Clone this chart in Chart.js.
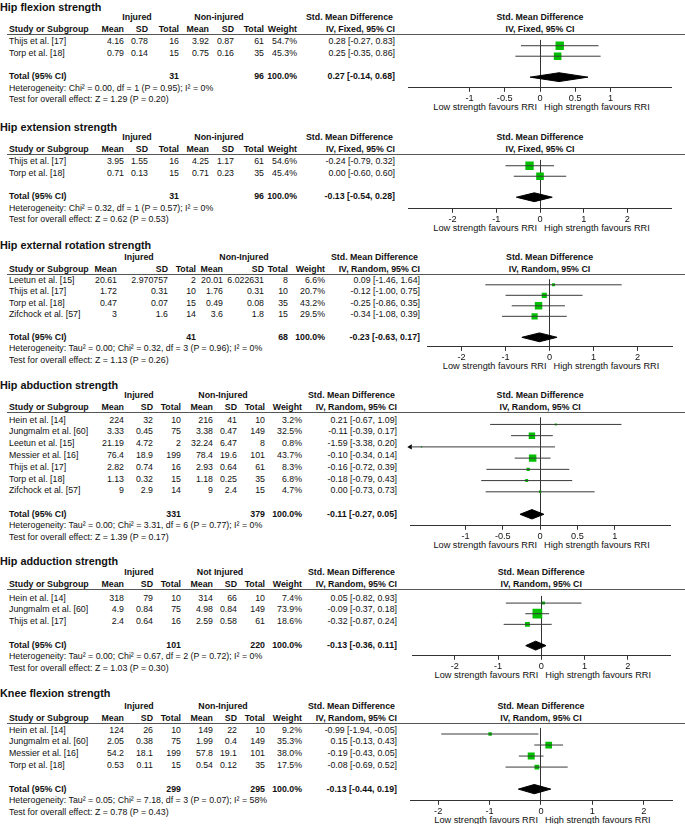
<!DOCTYPE html>
<html>
<head>
<meta charset="utf-8">
<script src="https://cdn.jsdelivr.net/npm/chart.js@4.4.1/dist/chart.umd.min.js"></script>
<style>
  html,body{margin:0;padding:0;background:#fff;}
  #page{position:relative;width:685px;height:824px;overflow:hidden;font-family:"Liberation Sans",Arial,sans-serif;color:#111;}
  .t{position:absolute;white-space:nowrap;font-size:8.8px;line-height:10px;height:10px;}
  .b{font-weight:bold;}
  .f{font-size:9.2px;}
  .title{font-size:10.8px;font-weight:bold;line-height:12px;height:12px;}
  .hl{position:absolute;height:0;border-top:1px solid #555;}
  canvas{position:absolute;}
</style>
</head>
<body>
<div id="page"></div>
<script>
// ---- data ----

// Hip flexion strength
const flexStudy = ['Thijs et al. [17]', 'Torp et al. [18]'];
const flexInj = [[4.16, 0.78, 16], [0.79, 0.14, 15]];
const flexNon = [[3.92, 0.87, 61], [0.75, 0.16, 35]];
const flexWeight = [54.7, 45.3];
const flexSmd = [0.28, 0.25];
const flexLow = [-0.27, -0.35];
const flexHigh = [0.83, 0.86];
const flexTotal = [31, 96, 0.27, -0.14, 0.68];
const flexTicks = [-1, -0.5, 0, 0.5, 1];

// Hip extension strength
const extStudy = ['Thijs et al. [17]', 'Torp et al. [18]'];
const extInj = [[3.95, 1.55, 16], [0.71, 0.13, 15]];
const extNon = [[4.25, 1.17, 61], [0.71, 0.23, 35]];
const extWeight = [54.6, 45.4];
const extSmd = [-0.24, 0.00];
const extLow = [-0.79, -0.60];
const extHigh = [0.32, 0.60];
const extTotal = [31, 96, -0.13, -0.54, 0.28];
const extTicks = [-2, -1, 0, 1, 2];

// Hip external rotation strength
const rotStudy = ['Leetun et al. [15]', 'Thijs et al. [17]', 'Torp et al. [18]', 'Zifchock et al. [57]'];
const rotInj = [[20.61, 2.970757, 2], [1.72, 0.31, 10], [0.47, 0.07, 15], [3, 1.6, 14]];
const rotNon = [[20.01, 6.022631, 8], [1.76, 0.31, 10], [0.49, 0.08, 35], [3.6, 1.8, 15]];
const rotWeight = [6.6, 20.7, 43.2, 29.5];
const rotSmd = [0.09, -0.12, -0.25, -0.34];
const rotLow = [-1.46, -1.00, -0.86, -1.08];
const rotHigh = [1.64, 0.75, 0.35, 0.39];
const rotTotal = [41, 68, -0.23, -0.63, 0.17];
const rotTicks = [-2, -1, 0, 1, 2];

// Hip abduction strength
const abdStudy = ['Hein et al. [14]', 'Jungmalm et al. [60]', 'Leetun et al. [15]', 'Messier et al. [16]', 'Thijs et al. [17]', 'Torp et al. [18]', 'Zifchock et al. [57]'];
const abdInj = [[224, 32, 10], [3.33, 0.45, 75], [21.19, 4.72, 2], [76.4, 18.9, 199], [2.82, 0.74, 16], [1.13, 0.32, 15], [9, 2.9, 14]];
const abdNon = [[216, 41, 10], [3.38, 0.47, 149], [32.24, 6.47, 8], [78.4, 19.6, 101], [2.93, 0.64, 61], [1.18, 0.25, 35], [9, 2.4, 15]];
const abdWeight = [3.2, 32.5, 0.8, 43.7, 8.3, 6.8, 4.7];
const abdSmd = [0.21, -0.11, -1.59, -0.10, -0.16, -0.18, 0.00];
const abdLow = [-0.67, -0.39, -3.38, -0.34, -0.72, -0.79, -0.73];
const abdHigh = [1.09, 0.17, 0.20, 0.14, 0.39, 0.43, 0.73];
const abdTotal = [331, 379, -0.11, -0.27, 0.05];
const abdTicks = [-1, -0.5, 0, 0.5, 1];

// Hip adduction strength
const addStudy = ['Hein et al. [14]', 'Jungmalm et al. [60]', 'Thijs et al. [17]'];
const addInj = [[318, 79, 10], [4.9, 0.84, 75], [2.4, 0.64, 16]];
const addNon = [[314, 66, 10], [4.98, 0.84, 149], [2.59, 0.58, 61]];
const addWeight = [7.4, 73.9, 18.6];
const addSmd = [0.05, -0.09, -0.32];
const addLow = [-0.82, -0.37, -0.87];
const addHigh = [0.93, 0.18, 0.24];
const addTotal = [101, 220, -0.13, -0.36, 0.11];
const addTicks = [-2, -1, 0, 1, 2];

// Knee flexion strength
const kneeStudy = ['Hein et al. [14]', 'Jungmalm et al. [60]', 'Messier et al. [16]', 'Torp et al. [18]'];
const kneeInj = [[124, 26, 10], [2.05, 0.38, 75], [54.2, 18.1, 199], [0.53, 0.11, 15]];
const kneeNon = [[149, 22, 10], [1.99, 0.4, 149], [57.8, 19.1, 101], [0.54, 0.12, 35]];
const kneeWeight = [9.2, 35.3, 38.0, 17.5];
const kneeSmd = [-0.99, 0.15, -0.19, -0.08];
const kneeLow = [-1.94, -0.13, -0.43, -0.69];
const kneeHigh = [-0.05, 0.43, 0.05, 0.52];
const kneeTotal = [299, 295, -0.13, -0.44, 0.19];
const kneeTicks = [-2, -1, 0, 1, 2];

// ---- layout ----
const colsA = [124, 148, 179, 209, 234, 264, 297, 395];
const colsB = [117, 168, 196, 223, 264, 288, 325, 420];
const colsC = [124, 153, 181, 213, 237, 265, 302, 397];

const panels = [
  {title:'Hip flexion strength', grp:['Injured','Non-injured'], method:'IV, Fixed, 95% CI',
   study:flexStudy, inj:flexInj, non:flexNon, weight:flexWeight, smd:flexSmd, low:flexLow, high:flexHigh, total:flexTotal, ticks:flexTicks,
   het:'Heterogeneity: Chi\u00b2 = 0.00, df = 1 (P = 0.95); I\u00b2 = 0%', test:'Test for overall effect: Z = 1.29 (P = 0.20)',
   titleY:7, lineY:34.5, firstY:41, step:11.7, axisY:88, cols:colsA, grpX:[137,219], plotX:[403,677], xr:[-1.86,1.86]},
  {title:'Hip extension strength', grp:['Injured','Non-injured'], method:'IV, Fixed, 95% CI',
   study:extStudy, inj:extInj, non:extNon, weight:extWeight, smd:extSmd, low:extLow, high:extHigh, total:extTotal, ticks:extTicks,
   het:'Heterogeneity: Chi\u00b2 = 0.32, df = 1 (P = 0.57); I\u00b2 = 0%', test:'Test for overall effect: Z = 0.62 (P = 0.53)',
   titleY:127, lineY:154.5, firstY:161, step:11.7, axisY:209, cols:colsA, grpX:[137,219], plotX:[403,677], xr:[-3,3]},
  {title:'Hip external rotation strength', grp:['Injured','Non-Injured'], method:'IV, Random, 95% CI',
   study:rotStudy, inj:rotInj, non:rotNon, weight:rotWeight, smd:rotSmd, low:rotLow, high:rotHigh, total:rotTotal, ticks:rotTicks,
   het:'Heterogeneity: Tau\u00b2 = 0.00; Chi\u00b2 = 0.32, df = 3 (P = 0.96); I\u00b2 = 0%', test:'Test for overall effect: Z = 1.13 (P = 0.26)',
   titleY:245, lineY:274, firstY:280, step:11.35, axisY:347, cols:colsB, grpX:[139,244], plotX:[422,678], xr:[-2.78,2.8]},
  {title:'Hip abduction strength', grp:['Injured','Non-Injured'], method:'IV, Random, 95% CI',
   study:abdStudy, inj:abdInj, non:abdNon, weight:abdWeight, smd:abdSmd, low:abdLow, high:abdHigh, total:abdTotal, ticks:abdTicks,
   het:'Heterogeneity: Tau\u00b2 = 0.00; Chi\u00b2 = 3.31, df = 6 (P = 0.77); I\u00b2 = 0%', test:'Test for overall effect: Z = 1.39 (P = 0.17)',
   titleY:385, lineY:412, firstY:419.5, step:11.8, axisY:526, cols:colsC, grpX:[139,223], plotX:[405,676], xr:[-1.74,1.75]},
  {title:'Hip adduction strength', grp:['Injured','Not Injured'], method:'IV, Random, 95% CI',
   study:addStudy, inj:addInj, non:addNon, weight:addWeight, smd:addSmd, low:addLow, high:addHigh, total:addTotal, ticks:addTicks,
   het:'Heterogeneity: Tau\u00b2 = 0.00; Chi\u00b2 = 0.67, df = 2 (P = 0.72); I\u00b2 = 0%', test:'Test for overall effect: Z = 1.03 (P = 0.30)',
   titleY:561, lineY:589.5, firstY:597.5, step:11.8, axisY:656, cols:colsC, grpX:[139,220], plotX:[406,677], xr:[-2.97,2.98]},
  {title:'Knee flexion strength', grp:['Injured','Non-Injured'], method:'IV, Random, 95% CI',
   study:kneeStudy, inj:kneeInj, non:kneeNon, weight:kneeWeight, smd:kneeSmd, low:kneeLow, high:kneeHigh, total:kneeTotal, ticks:kneeTicks,
   het:'Heterogeneity: Tau\u00b2 = 0.05; Chi\u00b2 = 7.18, df = 3 (P = 0.07); I\u00b2 = 58%', test:'Test for overall effect: Z = 0.78 (P = 0.43)',
   titleY:693, lineY:723, firstY:729.5, step:11.8, axisY:801, cols:colsC, grpX:[139,223], plotX:[406,677], xr:[-2.53,2.55]}
];

const page = document.getElementById('page');
const FONT = '"Liberation Sans", Arial, sans-serif';

function put(x, y, text, align, cls){
  const d = document.createElement('div');
  d.className = 't' + (cls ? ' ' + cls : '');
  d.textContent = text;
  const h = cls && cls.indexOf('title') >= 0 ? 12 : 10;
  d.style.top = (y - h/2) + 'px';
  if(align === 'right'){ d.style.left = (x - 300) + 'px'; d.style.width = '300px'; d.style.textAlign = 'right'; }
  else if(align === 'center'){ d.style.left = (x - 150) + 'px'; d.style.width = '300px'; d.style.textAlign = 'center'; }
  else { d.style.left = x + 'px'; }
  page.appendChild(d);
}
function ci(e, l, h){ return e.toFixed(2) + ' [' + l.toFixed(2) + ', ' + h.toFixed(2) + ']'; }

panels.forEach(p => {
  const c = p.cols;
  const n = p.study.length;
  const rowY = i => p.firstY + i * p.step;
  const totalY = rowY(n + 1);
  const zeroX = p.plotX[0] + (0 - p.xr[0]) / (p.xr[1] - p.xr[0]) * (p.plotX[1] - p.plotX[0]);

  // table text
  put(0, p.titleY, p.title, 'left', 'title');
  const h1 = p.lineY - 17.5, h2 = p.lineY - 5.5;
  put(p.grpX[0], h1, p.grp[0], 'center', 'b');
  put(p.grpX[1], h1, p.grp[1], 'center', 'b');
  put(c[7] - 2, h1, 'Std. Mean Difference', 'right', 'b');
  put(zeroX, h1, 'Std. Mean Difference', 'center', 'b');
  put(9, h2, 'Study or Subgroup', 'left', 'b');
  ['Mean','SD','Total','Mean','SD','Total','Weight',p.method].forEach((s, k) => put(c[k], h2, s, 'right', 'b'));
  put(zeroX, h2, p.method, 'center', 'b');
  const hl = document.createElement('div');
  hl.className = 'hl';
  hl.style.left = '7px'; hl.style.width = '678px'; hl.style.top = Math.floor(p.lineY) + 'px';
  page.appendChild(hl);

  p.study.forEach((s, i) => {
    const y = rowY(i);
    put(9, y, s, 'left');
    const vals = [p.inj[i][0], p.inj[i][1], p.inj[i][2], p.non[i][0], p.non[i][1], p.non[i][2]];
    vals.forEach((v, k) => put(c[k], y, String(v), 'right'));
    put(c[6], y, p.weight[i].toFixed(1) + '%', 'right');
    put(c[7], y, ci(p.smd[i], p.low[i], p.high[i]), 'right');
  });
  put(9, totalY, 'Total (95% CI)', 'left', 'b');
  put(c[2], totalY, String(p.total[0]), 'right', 'b');
  put(c[5], totalY, String(p.total[1]), 'right', 'b');
  put(c[6], totalY, '100.0%', 'right', 'b');
  put(c[7], totalY, ci(p.total[2], p.total[3], p.total[4]), 'right', 'b');
  put(9, totalY + 11.5, p.het, 'left');
  put(9, totalY + 23, p.test, 'left');

  // footer labels under the axis
  put(zeroX - 3, p.axisY + 19, 'Low strength favours RRI', 'right', 'f');
  put(zeroX + 4, p.axisY + 19, 'High strength favours RRI', 'left', 'f');

  // forest plot
  const cv = document.createElement('canvas');
  const W = p.plotX[1] - p.plotX[0];
  const H = Math.round(p.axisY - p.lineY) + 17;
  cv.width = W; cv.height = H;
  cv.style.left = p.plotX[0] + 'px';
  cv.style.top = Math.floor(p.lineY) + 'px';
  page.appendChild(cv);

  const datasets = [];
  p.study.forEach((s, i) => {
    datasets.push({data:[{x:p.low[i], y:i}, {x:p.high[i], y:i}], showLine:true, borderColor:'#3a3a3a', borderWidth:1, pointRadius:0});
    if(p.low[i] < p.xr[0]){
      datasets.push({data:[{x:p.xr[0], y:i}], pointStyle:'triangle', rotation:-90, pointRadius:3, backgroundColor:'#000', borderWidth:0, clip:false});
    }
  });
  datasets.push({
    data:p.study.map((s, i) => ({x:p.smd[i], y:i})),
    pointStyle:'rect',
    pointRadius:p.weight.map(w => Math.max(1, 0.8 * Math.sqrt(w))),
    backgroundColor:'#00c000', borderWidth:0
  });
  const ty = n + 1, dh = 0.42;
  datasets.push({
    data:[{x:p.total[3], y:ty}, {x:p.total[2], y:ty - dh}, {x:p.total[4], y:ty}, {x:p.total[2], y:ty + dh}, {x:p.total[3], y:ty}],
    showLine:true, fill:'shape', backgroundColor:'#000', borderColor:'#000', borderWidth:1, pointRadius:0
  });

  new Chart(cv.getContext('2d'), {
    type:'scatter',
    data:{datasets},
    options:{
      responsive:false, animation:false, events:[],
      layout:{padding:0},
      plugins:{legend:{display:false}, tooltip:{enabled:false}},
      scales:{
        x:{type:'linear', min:p.xr[0], max:p.xr[1],
           afterBuildTicks: sc => { sc.ticks = p.ticks.map(v => ({value:v})); },
           grid:{color: ctx => (ctx.tick && ctx.tick.value === 0) ? '#333' : 'rgba(0,0,0,0)', tickColor:'#333', tickLength:4, lineWidth:1},
           border:{display:true, color:'#333', width:1},
           ticks:{font:{family:FONT, size:9.2, lineHeight:1}, color:'#111', padding:2, maxRotation:0, autoSkip:false,
                  callback: v => String(v)}},
        y:{type:'linear', reverse:true, display:false,
           min:-(p.firstY - p.lineY) / p.step, max:(p.axisY - p.firstY) / p.step}
      }
    }
  });
});
</script>
</body>
</html>
